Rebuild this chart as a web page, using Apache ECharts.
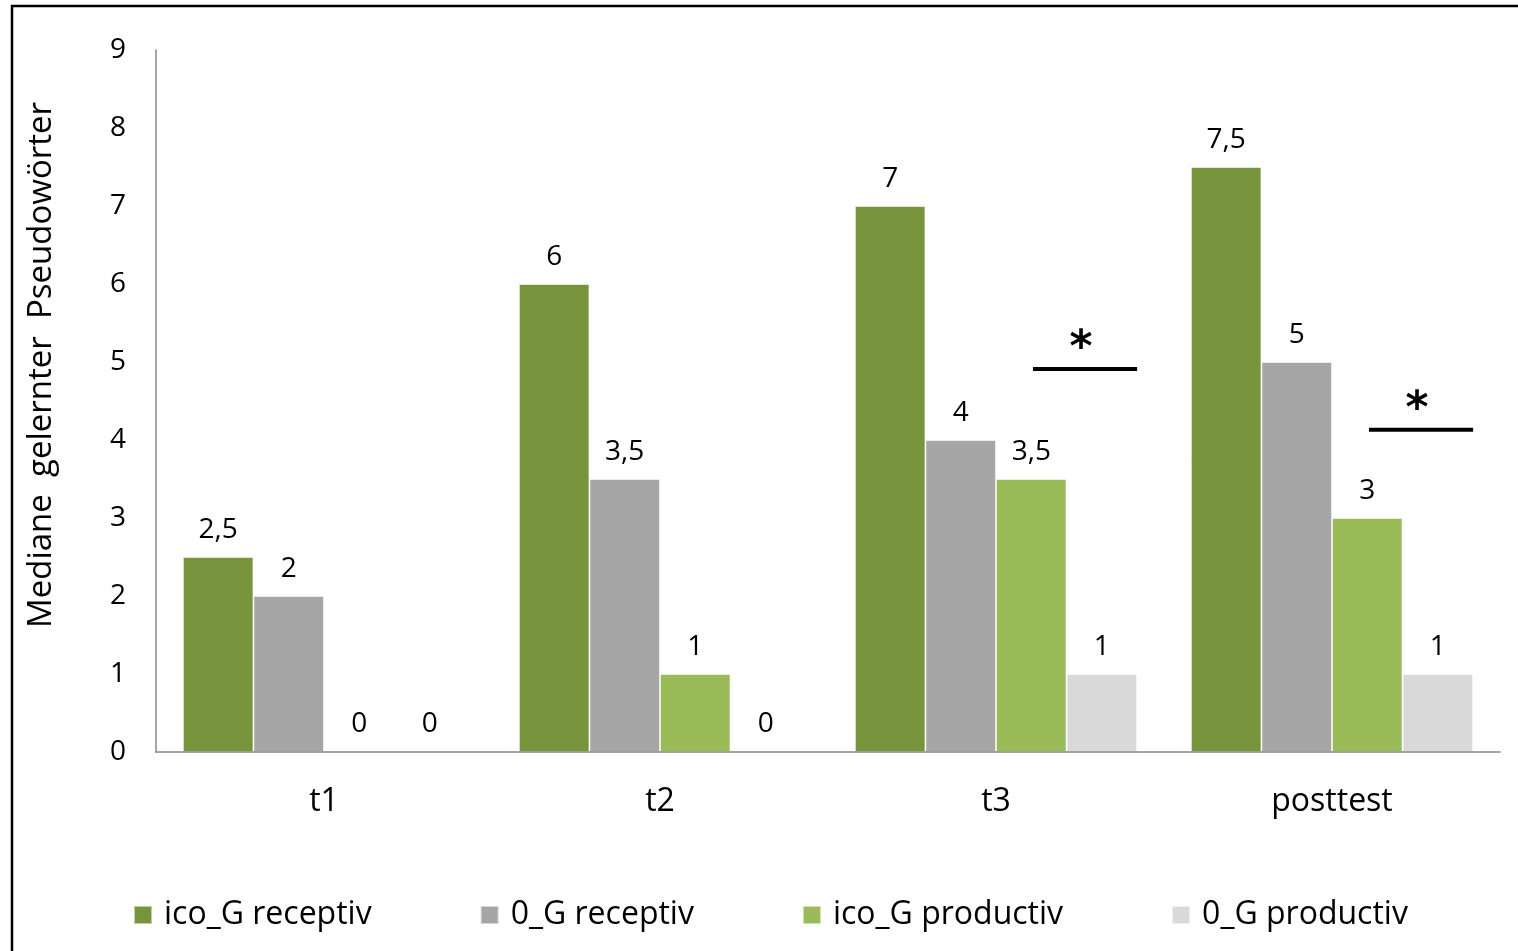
<!DOCTYPE html>
<html>
<head>
<meta charset="utf-8">
<script src="https://cdn.jsdelivr.net/npm/echarts@6/dist/echarts.min.js"></script>
<style>
  html, body { margin: 0; padding: 0; background: #fff; }
  #chart { width: 1518px; height: 951px; }
</style>
</head>
<body>
<div id="chart"></div>
<script>
// Test points and series
const categories = ['t1', 't2', 't3', 'posttest'];
const seriesNames = ['ico_G receptiv', '0_G receptiv', 'ico_G productiv', '0_G productiv'];
const icoReceptiv = [2.5, 6, 7, 7.5];
const nullReceptiv = [2, 3.5, 4, 5];
const icoProductiv = [0, 1, 3.5, 3];
const nullProductiv = [0, 0, 1, 1];
const yTicks = [0, 1, 2, 3, 4, 5, 6, 7, 8, 9];
const yTitle = 'Mediane  gelernter  Pseudowörter';

// Significance markers: category and height of the bracket line
const sigCategories = ['t3', 'posttest'];
const sigLineY = [4.91, 4.13];
const sigMark = '*';

const colors = ['#77933C', '#A6A6A6', '#9BBB59', '#D9D9D9'];
const FONT = '"Open Sans", Lato, sans-serif';

const values = [icoReceptiv, nullReceptiv, icoProductiv, nullProductiv];

const barSeries = seriesNames.map((name, i) => ({
  name: name,
  type: 'bar',
  data: values[i],
  barGap: '0%',
  barCategoryGap: '16%',
  z: 2,
  itemStyle: { color: colors[i], borderColor: 'rgba(255,255,255,0.55)', borderWidth: 1 },
  label: {
    show: true,
    position: 'top',
    distance: 13,
    fontFamily: FONT,
    fontSize: 28,
    color: '#000',
    formatter: p => String(p.value).replace('.', ',')
  }
}));

const sigSeries = {
  type: 'custom',
  name: 'sig',
  silent: true,
  z: 5,
  data: sigCategories.map((c, i) => [categories.indexOf(c), sigLineY[i]]),
  renderItem: function (params, api) {
    const pt = api.coord([api.value(0), api.value(1)]);
    const band = api.size([1, 0])[0];
    const x0 = pt[0] + band * 0.11;
    const x1 = pt[0] + band * 0.42;
    return {
      type: 'group',
      children: [
        { type: 'line', shape: { x1: x0, y1: pt[1], x2: x1, y2: pt[1] },
          style: { stroke: '#000', lineWidth: 4 } },
        { type: 'text', x: (x0 + x1) / 2 - 4, y: pt[1] - 19,
          style: { text: sigMark, fill: '#000', font: 'bold 44px "DejaVu Sans", sans-serif',
                   align: 'center', verticalAlign: 'middle' } }
      ]
    };
  }
};

const chart = echarts.init(document.getElementById('chart'), null, { renderer: 'canvas' });
chart.setOption({
  animation: false,
  backgroundColor: '#fff',
  textStyle: { fontFamily: FONT },
  graphic: [
    { type: 'rect', shape: { x: 12, y: 6, width: 1530, height: 970 },
      style: { fill: 'none', stroke: '#000', lineWidth: 2.5 }, silent: true, z: -1 },
    { type: 'text', x: 42, y: 365, rotation: Math.PI / 2,
      style: { text: yTitle, font: '33px ' + FONT, fill: '#000',
               align: 'center', verticalAlign: 'middle' } }
  ],
  grid: { left: 156, right: 18, top: 50, bottom: 199, containLabel: false },
  legend: {
    data: seriesNames,
    left: 133,
    top: 899,
    padding: 0,
    itemWidth: 18,
    itemHeight: 18,
    itemGap: 108,
    icon: 'rect',
    textStyle: { fontFamily: FONT, fontSize: 32, color: '#000', padding: [0, 0, 0, 7] }
  },
  xAxis: {
    type: 'category',
    data: categories,
    z: 3,
    axisLine: { lineStyle: { color: '#868686', width: 1.5 } },
    axisTick: { show: false },
    axisLabel: { fontFamily: FONT, fontSize: 32, color: '#000', margin: 34 }
  },
  yAxis: {
    type: 'value',
    min: yTicks[0],
    max: yTicks[yTicks.length - 1],
    interval: 1,
    axisLine: { show: true, lineStyle: { color: '#868686', width: 1.5 } },
    axisTick: { show: false },
    splitLine: { show: false },
    axisLabel: { fontFamily: FONT, fontSize: 28, color: '#000', margin: 30 }
  },
  series: barSeries.concat([sigSeries])
});
</script>
</body>
</html>
